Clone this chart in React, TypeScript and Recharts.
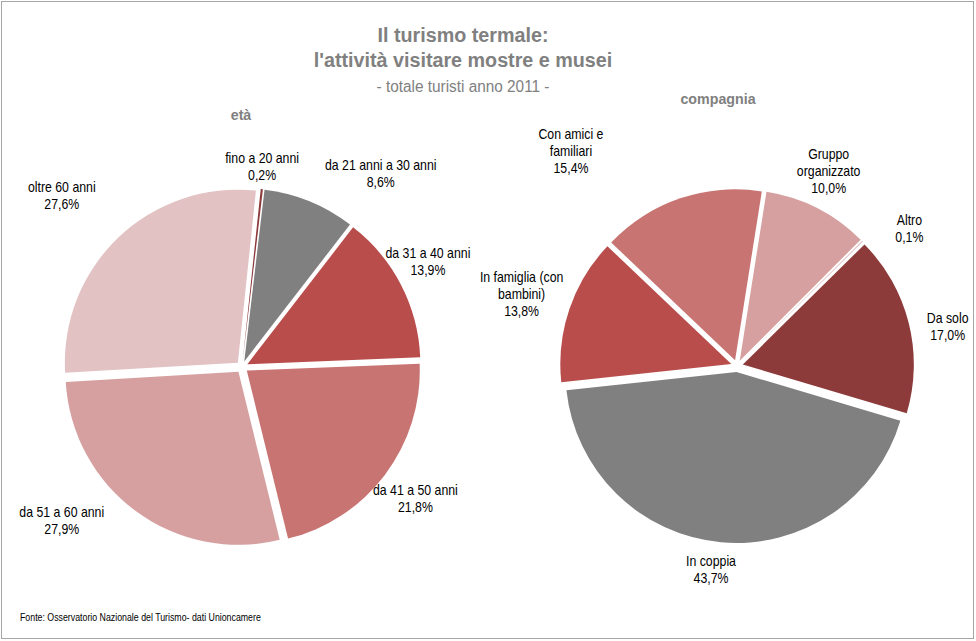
import React from 'react';
import { PieChart, Pie, Cell, Sector } from 'recharts';

// età
const etaNames = ['fino a 20 anni', 'da 21 anni  a 30 anni', 'da 31 a 40 anni', 'da 41 a 50 anni', 'da 51 a 60 anni', 'oltre 60 anni'];
const etaValues = [0.2, 8.6, 13.9, 21.8, 27.9, 27.6];
const etaColors = ['#8C3A3A', '#808080', '#B84D4B', '#C87472', '#D6A0A0', '#E2C2C3'];

// compagnia
const compNames = ['Gruppo\norganizzato', 'Altro', 'Da solo', 'In coppia', 'In famiglia (con\nbambini)', 'Con amici e\nfamiliari'];
const compValues = [10.0, 0.1, 17.0, 43.7, 13.8, 15.4];
const compColors = ['#D6A0A0', '#E2C2C3', '#8C3A3A', '#808080', '#B84D4B', '#C87472'];

// label nudges (Excel "best fit" moves some labels away from the slice)
const etaNudge: [number, number][] = [[-5, -2], [45, -8], [-18, -14], [-10, 11], [-44, -7], [-26, -27]];
const compNudge: [number, number][] = [[-6, -11], [33, 2], [14, 9], [-7, 6], [3, -6], [-97, -19]];

const etaData = etaNames.map((name, i) => ({ name, value: etaValues[i] }));
const compData = compNames.map((name, i) => ({ name, value: compValues[i] }));

const FONT = "'Liberation Sans', Arial, sans-serif";
const RAD = Math.PI / 180;
const EXPLODE = 6;
const LABEL_FS = 14;
const LABEL_SX = 0.88;
const LINE_H = 17;

// narrow text: Arial squeezed horizontally, like Arial Narrow
const NText = ({ x, y, sx = 0.87, anchor = 'middle', lines, lh = LINE_H, ...rest }: any) => (
  <text transform={`translate(${x},${y}) scale(${sx},1)`} textAnchor={anchor} fontFamily={FONT} {...rest}>
    {lines.map((l: string, i: number) => (
      <tspan key={i} x={0} dy={i === 0 ? 0 : lh}>
        {l}
      </tspan>
    ))}
  </text>
);

const explodedShape = (props: any) => {
  const { cx, cy, midAngle } = props;
  const dx = EXPLODE * Math.cos(-midAngle * RAD);
  const dy = EXPLODE * Math.sin(-midAngle * RAD);
  return <Sector {...props} cx={cx + dx} cy={cy + dy} stroke="none" />;
};

const fmt = (v: number) => v.toFixed(1).replace('.', ',') + '%';

const makeLabel = (nudges: [number, number][]) => (props: any) => {
  const { cx, cy, midAngle, outerRadius, index, name, value } = props;
  const lines = String(name).split('\n').concat(fmt(value));
  const longest = Math.max(...lines.map((l) => l.length));
  const w = longest * 6.2;
  const h = lines.length * LINE_H;
  const cos = Math.cos(-midAngle * RAD);
  const sin = Math.sin(-midAngle * RAD);
  const r = outerRadius + 10;
  const [nx, ny] = nudges[index] || [0, 0];
  const x = cx + r * cos + (w / 2) * cos + nx;
  const y = cy + r * sin + (h / 2) * sin + ny;
  const y0 = y - ((lines.length - 1) * LINE_H) / 2 + LABEL_FS * 0.35;
  return <NText x={x} y={y0} sx={LABEL_SX} lines={lines} fontSize={LABEL_FS} fill="#000" />;
};

export default function App() {
  return (
    <div style={{ position: 'absolute', left: 0, top: 0, width: 976, height: 641, background: '#fff' }}>
      <PieChart width={976} height={641} style={{ position: 'absolute', left: 0, top: 0 }}>
        <Pie
          data={etaData}
          dataKey="value"
          nameKey="name"
          cx={237}
          cy={362}
          outerRadius={173}
          startAngle={84}
          endAngle={-276}
          labelLine={false}
          label={makeLabel(etaNudge)}
          shape={explodedShape}
          isAnimationActive={false}
        >
          {etaData.map((d, i) => (
            <Cell key={d.name} fill={etaColors[i]} />
          ))}
        </Pie>
        <Pie
          data={compData}
          dataKey="value"
          nameKey="name"
          cx={732}
          cy={361}
          outerRadius={171}
          startAngle={81}
          endAngle={-279}
          labelLine={false}
          label={makeLabel(compNudge)}
          shape={explodedShape}
          isAnimationActive={false}
        >
          {compData.map((d, i) => (
            <Cell key={d.name} fill={compColors[i]} />
          ))}
        </Pie>
      </PieChart>
      <svg width={976} height={641} style={{ position: 'absolute', left: 0, top: 0, pointerEvents: 'none' }}>
        <rect x={1.5} y={1.5} width={972} height={637} fill="none" stroke="#A6A6A6" strokeWidth={1} />
        <g fill="#808080">
          <NText x={463} y={42} sx={0.94} lines={['Il turismo termale:']} fontSize={21} fontWeight="bold" />
          <NText x={463} y={67} sx={0.94} lines={["l'attività visitare mostre e musei"]} fontSize={21} fontWeight="bold" />
          <NText x={463} y={92} sx={0.96} lines={['- totale turisti anno 2011 -']} fontSize={16} />
          <NText x={241} y={120} sx={0.95} lines={['età']} fontSize={15} fontWeight="bold" />
          <NText x={718} y={104} sx={0.95} lines={['compagnia']} fontSize={15} fontWeight="bold" />
        </g>
        <NText
          x={20}
          y={621}
          sx={0.88}
          anchor="start"
          lines={['Fonte: Osservatorio Nazionale del Turismo- dati Unioncamere']}
          fontSize={10}
          fill="#000"
        />
      </svg>
    </div>
  );
}
